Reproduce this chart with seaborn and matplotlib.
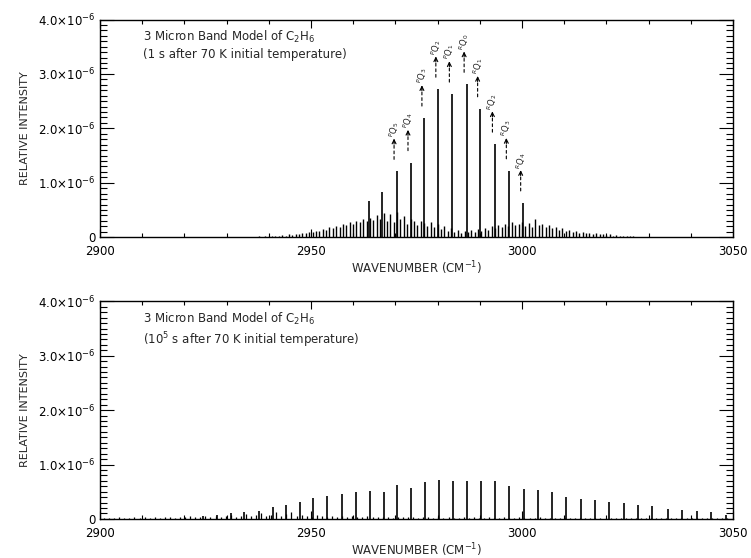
import matplotlib
matplotlib.use("Agg")
import matplotlib.pyplot as plt
import seaborn as sns
from matplotlib.ticker import MultipleLocator, FixedLocator, FixedFormatter

# ---- top panel: 1 s after 70 K ----
q_top_x = [2963.8, 2966.9, 2970.3, 2973.6, 2976.9, 2980.2, 2983.4, 2986.9,
           2990.1, 2993.6, 2996.9, 3000.3]
q_top_y = [0.66, 0.83, 1.21, 1.37, 2.19, 2.72, 2.63, 2.81, 2.36, 1.71, 1.22, 0.63]
q_labels = ['', '', r'$^{P}Q_{5}$', r'$^{P}Q_{4}$', r'$^{P}Q_{3}$', r'$^{P}Q_{2}$',
            r'$^{P}Q_{1}$', r'$^{R}Q_{0}$', r'$^{R}Q_{1}$', r'$^{R}Q_{2}$',
            r'$^{R}Q_{3}$', r'$^{R}Q_{4}$']

top_forest_x = [
    2936.0, 2936.8, 2937.6, 2938.4, 2939.2, 2940.0, 2940.8, 2941.6, 2942.4, 2943.2,
    2944.0, 2944.8, 2945.6, 2946.4, 2947.2, 2948.0, 2948.8, 2949.6, 2950.4, 2951.2,
    2952.0, 2952.8, 2953.6, 2954.4, 2955.2, 2956.0, 2956.8, 2957.6, 2958.4, 2959.2,
    2960.0, 2960.8, 2961.6, 2962.4, 2963.2, 2964.0, 2964.8, 2965.6, 2966.4, 2967.2,
    2968.0, 2968.8, 2969.6, 2970.4, 2971.2, 2972.0, 2972.8, 2973.6, 2974.4, 2975.2,
    2976.0, 2976.8, 2977.6, 2978.4, 2979.2, 2980.0, 2980.8, 2981.6, 2982.4, 2983.2,
    2984.0, 2984.8, 2985.6, 2986.4, 2987.2, 2988.0, 2988.8, 2989.6, 2990.4, 2991.2,
    2992.0, 2992.8, 2993.6, 2994.4, 2995.2, 2996.0, 2996.8, 2997.6, 2998.4, 2999.2,
    3000.0, 3000.8, 3001.6, 3002.4, 3003.2, 3004.0, 3004.8, 3005.6, 3006.4, 3007.2,
    3008.0, 3008.8, 3009.6, 3010.4, 3011.2, 3012.0, 3012.8, 3013.6, 3014.4, 3015.2,
    3016.0, 3016.8, 3017.6, 3018.4, 3019.2, 3020.0, 3020.8, 3021.6, 3022.4, 3023.2,
    3024.0, 3024.8, 3025.6, 3026.4, 3027.2, 3028.0, 3028.8, 3029.6, 3030.4, 3031.2]
top_forest_y = [
    0.01, 0.01, 0.02, 0.01, 0.02, 0.02, 0.03, 0.02, 0.03, 0.04,
    0.03, 0.05, 0.04, 0.06, 0.05, 0.08, 0.07, 0.10, 0.09, 0.12,
    0.11, 0.15, 0.13, 0.18, 0.16, 0.21, 0.19, 0.24, 0.22, 0.27,
    0.25, 0.30, 0.27, 0.33, 0.29, 0.36, 0.31, 0.40, 0.34, 0.45,
    0.30, 0.42, 0.28, 0.46, 0.33, 0.38, 0.25, 0.34, 0.29, 0.22,
    0.30, 0.26, 0.20, 0.28, 0.18, 0.24, 0.15, 0.20, 0.12, 0.16,
    0.10, 0.14, 0.08, 0.12, 0.09, 0.13, 0.10, 0.15, 0.12, 0.17,
    0.14, 0.20, 0.16, 0.22, 0.18, 0.24, 0.20, 0.27, 0.22, 0.25,
    0.28, 0.21, 0.26, 0.19, 0.33, 0.22, 0.24, 0.18, 0.22, 0.16,
    0.19, 0.14, 0.16, 0.12, 0.14, 0.10, 0.12, 0.08, 0.10, 0.07,
    0.08, 0.06, 0.07, 0.05, 0.06, 0.04, 0.05, 0.03, 0.04, 0.03,
    0.03, 0.02, 0.02, 0.02, 0.01, 0.01, 0.01, 0.01, 0.01, 0.01]

# ---- bottom panel: 10^5 s after 70 K ----
q_bot_x = [2924.5, 2927.8, 2931.1, 2934.2, 2937.6, 2940.9, 2944.1, 2947.4, 2950.6,
           2953.9, 2957.3, 2960.6, 2963.9, 2967.2, 2970.5, 2973.8, 2977.1, 2980.3,
           2983.6, 2987.0, 2990.4, 2993.7, 2997.0, 3000.4, 3003.8, 3007.2, 3010.5,
           3013.9, 3017.3, 3020.7, 3024.1, 3027.5, 3030.9, 3034.5, 3037.9, 3041.4,
           3044.8, 3048.3]
q_bot_y = [0.06, 0.07, 0.10, 0.12, 0.14, 0.22, 0.26, 0.32, 0.39,
           0.42, 0.45, 0.50, 0.51, 0.50, 0.62, 0.56, 0.67, 0.71,
           0.69, 0.69, 0.69, 0.69, 0.61, 0.55, 0.53, 0.50, 0.41,
           0.37, 0.34, 0.31, 0.29, 0.26, 0.23, 0.19, 0.17, 0.15,
           0.13, 0.07]

bot_forest_x = [
    2901.0, 2902.2, 2903.4, 2904.6, 2905.8, 2907.0, 2908.2, 2909.4, 2910.6, 2911.8,
    2913.0, 2914.2, 2915.4, 2916.6, 2917.8, 2919.0, 2920.2, 2921.4, 2922.6, 2923.8,
    2925.0, 2926.2, 2927.4, 2928.6, 2929.8, 2931.0, 2932.2, 2933.4, 2934.6, 2935.8,
    2937.0, 2938.2, 2939.4, 2940.6, 2941.8, 2943.0, 2944.2, 2945.4, 2946.6, 2947.8,
    2949.0, 2950.2, 2951.4, 2952.6, 2953.8, 2955.0, 2956.2, 2957.4, 2958.6, 2959.8,
    2961.0, 2962.2, 2963.4, 2964.6, 2965.8, 2967.0, 2968.2, 2969.4, 2970.6, 2971.8,
    2973.0, 2974.2, 2975.4, 2976.6, 2977.8, 2979.0, 2980.2, 2981.4, 2982.6, 2983.8,
    2985.0, 2986.2, 2987.4, 2988.6, 2989.8, 2991.0, 2992.2, 2993.4, 2994.6, 2995.8,
    2997.0, 2998.2, 2999.4, 3000.6, 3001.8, 3003.0, 3004.2, 3005.4, 3006.6, 3007.8,
    3009.0, 3010.2, 3011.4, 3012.6, 3013.8, 3015.0, 3016.2, 3017.4, 3018.6, 3019.8,
    3021.0, 3022.2, 3023.4, 3024.6, 3025.8, 3027.0, 3028.2, 3029.4, 3030.6, 3031.8,
    3033.0, 3034.2, 3035.4, 3036.6, 3037.8, 3039.0, 3040.2, 3041.4, 3042.6, 3043.8,
    3045.0, 3046.2, 3047.4, 3048.6]
bot_forest_y = [
    0.02, 0.01, 0.02, 0.03, 0.02, 0.02, 0.04, 0.02, 0.03, 0.02,
    0.03, 0.02, 0.04, 0.03, 0.02, 0.04, 0.03, 0.05, 0.03, 0.04,
    0.05, 0.03, 0.06, 0.04, 0.05, 0.07, 0.04, 0.06, 0.09, 0.05,
    0.07, 0.11, 0.06, 0.08, 0.12, 0.06, 0.09, 0.13, 0.05, 0.08,
    0.06, 0.04, 0.07, 0.05, 0.04, 0.06, 0.04, 0.05, 0.03, 0.05,
    0.04, 0.03, 0.05, 0.03, 0.04, 0.03, 0.04, 0.02, 0.04, 0.03,
    0.03, 0.04, 0.02, 0.03, 0.04, 0.02, 0.03, 0.02, 0.03, 0.02,
    0.02, 0.03, 0.02, 0.03, 0.02, 0.02, 0.03, 0.02, 0.02, 0.03,
    0.02, 0.02, 0.03, 0.02, 0.02, 0.02, 0.03, 0.02, 0.02, 0.02,
    0.02, 0.02, 0.01, 0.02, 0.02, 0.01, 0.02, 0.01, 0.02, 0.01,
    0.01, 0.02, 0.01, 0.01, 0.02, 0.01, 0.01, 0.01, 0.02, 0.01,
    0.01, 0.01, 0.01, 0.02, 0.01, 0.01, 0.01, 0.01, 0.01, 0.01,
    0.01, 0.01, 0.01, 0.01]

ytick_vals = [0, 1.0, 2.0, 3.0, 4.0]
ytick_labels = ['0', r'$1.0{\times}10^{-6}$', r'$2.0{\times}10^{-6}$',
                r'$3.0{\times}10^{-6}$', r'$4.0{\times}10^{-6}$']
xtick_vals = [2900, 2950, 3000, 3050]
titles = ['3 Micron Band Model of C$_2$H$_6$\n(1 s after 70 K initial temperature)',
          '3 Micron Band Model of C$_2$H$_6$\n(10$^5$ s after 70 K initial temperature)']

sns.set_theme(style="ticks")
plt.rcParams['font.family'] = ['DejaVu Sans']
plt.rcParams['mathtext.fontset'] = 'dejavusans'

fig = plt.figure(figsize=(7.51, 5.58), dpi=100)
ax_top = fig.add_axes([0.133, 0.575, 0.843, 0.390])
ax_bot = fig.add_axes([0.133, 0.070, 0.843, 0.390])


def style_axis(ax, title):
    ax.set_xlim(2900, 3050)
    ax.set_ylim(0, 4.0)
    ax.xaxis.set_major_locator(FixedLocator(xtick_vals))
    ax.xaxis.set_minor_locator(MultipleLocator(10))
    ax.yaxis.set_major_locator(FixedLocator(ytick_vals))
    ax.yaxis.set_major_formatter(FixedFormatter(ytick_labels))
    ax.yaxis.set_minor_locator(MultipleLocator(0.1))
    ax.tick_params(axis='both', which='both', direction='in', top=True, right=True,
                   colors='black', labelsize=8.5)
    ax.tick_params(axis='y', which='major', length=10, width=0.8, pad=3)
    ax.tick_params(axis='y', which='minor', length=5, width=0.8)
    ax.tick_params(axis='x', which='major', length=6, width=0.8, pad=6)
    ax.tick_params(axis='x', which='minor', length=3, width=0.8)
    for s in ax.spines.values():
        s.set_linewidth(1.0)
        s.set_color('black')
    ax.set_xlabel('WAVENUMBER (CM$^{-1}$)', fontsize=8.5, labelpad=1)
    ax.set_ylabel('RELATIVE INTENSITY', fontsize=8, labelpad=6)
    ax.text(0.068, 0.955, title, transform=ax.transAxes, fontsize=8.5,
            va='top', ha='left', linespacing=1.25)


# top panel
ax_top.vlines(top_forest_x, 0, top_forest_y, color='black', lw=1.0)
ax_top.vlines(q_top_x, 0, q_top_y, color='black', lw=1.2)
for x, y, lab in zip(q_top_x, q_top_y, q_labels):
    if not lab:
        continue
    xa = x - 0.6
    ax_top.annotate('', xy=(xa, y + 0.58), xytext=(xa, y + 0.22),
                    arrowprops=dict(arrowstyle='-', color='black', lw=0.8,
                                    linestyle=(0, (2.5, 2.5)), shrinkA=0, shrinkB=0))
    ax_top.annotate('', xy=(xa, y + 0.60), xytext=(xa, y + 0.50),
                    arrowprops=dict(arrowstyle='->', color='black', lw=0.8,
                                    mutation_scale=7, shrinkA=0, shrinkB=0))
    ax_top.text(xa, y + 0.78, lab, rotation=90, fontsize=6, ha='center', va='center')
style_axis(ax_top, titles[0])

# bottom panel
ax_bot.vlines(bot_forest_x, 0, bot_forest_y, color='black', lw=0.9)
ax_bot.vlines(q_bot_x, 0, q_bot_y, color='black', lw=1.2)
style_axis(ax_bot, titles[1])

fig.savefig('out.png', dpi=100)
